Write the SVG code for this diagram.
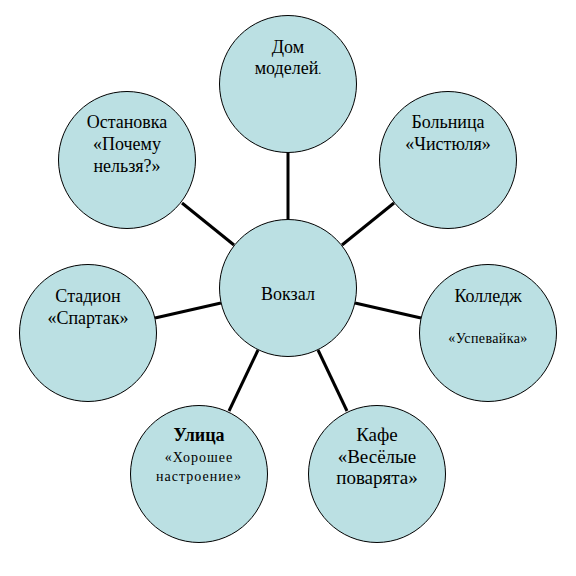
<svg xmlns="http://www.w3.org/2000/svg" width="576" height="576" viewBox="0 0 576 576">
<rect width="576" height="576" fill="#fff"/>
<g id="connectors" stroke="#000" stroke-width="3">
<line x1="288" y1="151" x2="288" y2="219"/>
<line x1="182" y1="203" x2="234" y2="245"/>
<line x1="394" y1="203" x2="342" y2="245"/>
<line x1="155" y1="318" x2="221" y2="303"/>
<line x1="421" y1="318" x2="355" y2="303"/>
<line x1="258" y1="350" x2="229" y2="411"/>
<line x1="318" y1="350" x2="347" y2="411"/>
</g>
<g id="nodes" fill="#BBE0E3" stroke="#000" stroke-width="1">
<circle id="c-vokzal" cx="288" cy="288" r="68.5"/>
<circle id="c-dom" cx="288" cy="84" r="68.5"/>
<circle id="c-ostanovka" cx="127" cy="160" r="68.5"/>
<circle id="c-bolnica" cx="448" cy="160" r="68.5"/>
<circle id="c-stadion" cx="88" cy="333" r="68.5"/>
<circle id="c-kolledzh" cx="488" cy="333" r="68.5"/>
<circle id="c-ulica" cx="199" cy="474" r="68.5"/>
<circle id="c-kafe" cx="377" cy="474" r="68.5"/>
</g>
<g id="labels" text-anchor="middle">
<text style="font-family:'Liberation Serif',serif;font-size:18px" x="288" y="300">Вокзал</text>
<text style="font-family:'Liberation Serif',serif;font-size:18px" x="288" y="53">Дом</text>
<text style="font-family:'Liberation Serif',serif;font-size:18px" x="288" y="74">моделей<tspan style="font-size:12px">.</tspan></text>
<text style="font-family:'Liberation Serif',serif;font-size:18px" x="127" y="128">Остановка</text>
<text style="font-family:'Liberation Serif',serif;font-size:18px" x="127" y="150">«Почему</text>
<text style="font-family:'Liberation Serif',serif;font-size:18px" x="127" y="172">нельзя?»</text>
<text style="font-family:'Liberation Serif',serif;font-size:18px" x="448" y="128">Больница</text>
<text style="font-family:'Liberation Serif',serif;font-size:18px" x="448" y="150">«Чистюля»</text>
<text style="font-family:'Liberation Serif',serif;font-size:18px" x="88" y="302">Стадион</text>
<text style="font-family:'Liberation Serif',serif;font-size:18px" x="88" y="324">«Спартак»</text>
<text style="font-family:'Liberation Serif',serif;font-size:18px" x="488" y="302">Колледж</text>
<text style="font-family:'Liberation Serif',serif;font-size:14px;letter-spacing:0.4px" x="488" y="343">«Успевайка»</text>
<text style="font-family:'Liberation Serif',serif;font-size:18px;font-weight:bold" x="199" y="441">Улица</text>
<text style="font-family:'Liberation Serif',serif;font-size:14px;letter-spacing:1px" x="199" y="462">«Хорошее</text>
<text style="font-family:'Liberation Serif',serif;font-size:14px;letter-spacing:1px" x="199" y="481">настроение»</text>
<text style="font-family:'Liberation Serif',serif;font-size:19px" x="377" y="441">Кафе</text>
<text style="font-family:'Liberation Serif',serif;font-size:19px" x="377" y="463">«Весёлые</text>
<text style="font-family:'Liberation Serif',serif;font-size:19px" x="377" y="484">поварята»</text>
</g>
</svg>
